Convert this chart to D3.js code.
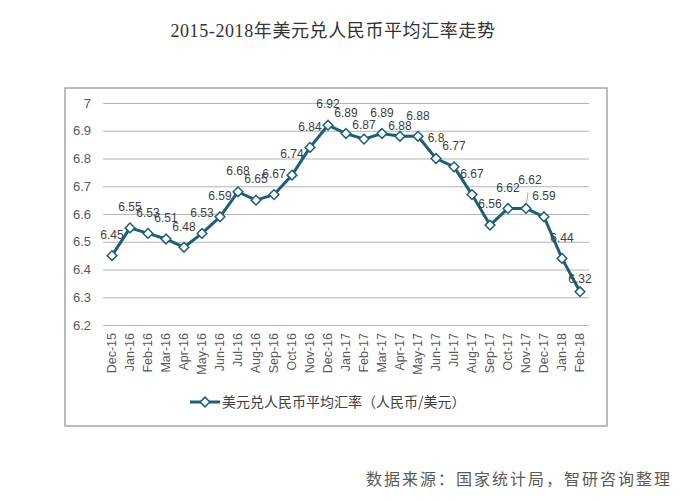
<!DOCTYPE html>
<html><head><meta charset="utf-8">
<script src="https://cdn.jsdelivr.net/npm/d3@7/dist/d3.min.js"></script>
<style>
body{margin:0;background:#fff;}
svg{display:block;}
</style></head>
<body>
<svg id="c" width="693" height="501"></svg>
<script>
const months = ["Dec-15","Jan-16","Feb-16","Mar-16","Apr-16","May-16","Jun-16","Jul-16","Aug-16","Sep-16","Oct-16","Nov-16","Dec-16","Jan-17","Feb-17","Mar-17","Apr-17","May-17","Jun-17","Jul-17","Aug-17","Sep-17","Oct-17","Nov-17","Dec-17","Jan-18","Feb-18"];
const rates = [6.45,6.55,6.53,6.51,6.48,6.53,6.59,6.68,6.65,6.67,6.74,6.84,6.92,6.89,6.87,6.89,6.88,6.88,6.8,6.77,6.67,6.56,6.62,6.62,6.59,6.44,6.32];
const yTicks = [6.2,6.3,6.4,6.5,6.6,6.7,6.8,6.9,7];
const yTickLabels = ["6.2","6.3","6.4","6.5","6.6","6.7","6.8","6.9","7"];
const seriesName = "美元兑人民币平均汇率（人民币/美元）";
const title = "2015-2018年美元兑人民币平均汇率走势";
const source = "数据来源：国家统计局，智研咨询整理";
// label nudges (style only)
const labelDy = {14:-14, 16:-11, 23:-29, 26:-13};
const labelDx = {23:4};

const svg = d3.select("#c");
const color = "#1d5e78";
const L=103, R=589, T=103, B=325;

svg.append("text").attr("x",333).attr("y",37).attr("text-anchor","middle")
  .attr("font-family","'Liberation Serif','Noto Sans CJK SC'").attr("font-size",18)
  .attr("letter-spacing","0.6px").attr("fill","#333").text(title);

svg.append("rect").attr("x",65).attr("y",88).attr("width",542).attr("height",338)
  .attr("fill","#fff").attr("stroke","#a6a6a6").attr("stroke-width",1.5);

const x = d3.scaleBand().domain(months).range([L,R]);
const y = d3.scaleLinear().domain([6.2,7]).range([B,T]);

const gy = svg.append("g").attr("transform",`translate(${L},0)`)
  .call(d3.axisLeft(y).tickValues(yTicks).tickFormat((d,i)=>yTickLabels[i]).tickSize(-(R-L)).tickPadding(12));
gy.select(".domain").remove();
gy.selectAll(".tick line").attr("stroke","#b3b3b3").attr("stroke-width",1);
gy.selectAll(".tick text").attr("font-family","'Liberation Sans',Arial").attr("font-size",13).attr("fill","#595959");

const gx = svg.append("g").attr("transform",`translate(0,${B})`)
  .call(d3.axisBottom(x).tickSize(0).tickPadding(0));
gx.select(".domain").remove();
gx.selectAll(".tick text").attr("font-family","'Liberation Sans',Arial").attr("font-size",12.5).attr("fill","#595959")
  .attr("transform","rotate(-90)").attr("text-anchor","end").attr("x",-8).attr("y",0).attr("dy","0.35em");

const cx = d => x(d) + x.bandwidth()/2;
const line = d3.line().x((d,i)=>cx(months[i])).y(d=>y(d));
svg.append("path").datum(rates).attr("d",line).attr("fill","none").attr("stroke",color).attr("stroke-width",3).attr("stroke-linejoin","round");

const diamond = d3.symbol().type(d3.symbolDiamond2).size(60);
svg.selectAll(".pt").data(rates).join("path").attr("class","pt")
  .attr("d",diamond).attr("transform",(d,i)=>`translate(${cx(months[i])},${y(d)})`)
  .attr("fill","#fff").attr("stroke",color).attr("stroke-width",1.5);

// leader line for Nov-17
svg.append("line").attr("x1",cx(months[23])+2).attr("y1",y(rates[23])-16).attr("x2",cx(months[23])+0.5).attr("y2",y(rates[23])-5)
  .attr("stroke","#a6a6a6").attr("stroke-width",1);

svg.selectAll(".lbl").data(rates).join("text").attr("class","lbl")
  .attr("x",(d,i)=>cx(months[i])+(labelDx[i]||0)).attr("y",(d,i)=>y(d)+(labelDy[i]!==undefined?labelDy[i]:-21))
  .attr("dy","0.35em").attr("text-anchor","middle")
  .attr("font-family","'Liberation Sans',Arial").attr("font-size",12).attr("fill","#404040")
  .text(d=>String(d));

// legend
const lg = svg.append("g");
lg.append("line").attr("x1",190).attr("x2",220).attr("y1",402).attr("y2",402).attr("stroke",color).attr("stroke-width",3);
lg.append("path").attr("d",diamond).attr("transform","translate(205,402)").attr("fill","#fff").attr("stroke",color).attr("stroke-width",1.5);
lg.append("text").attr("x",222).attr("y",402).attr("dy","0.35em").attr("font-family","'Noto Sans CJK SC'").attr("font-size",14).attr("fill","#404040").text(seriesName);

svg.append("text").attr("x",366).attr("y",485).attr("font-family","'Noto Sans CJK SC'").attr("font-size",16)
  .attr("letter-spacing","2px").attr("fill","#595959").text(source);
</script>
</body></html>
